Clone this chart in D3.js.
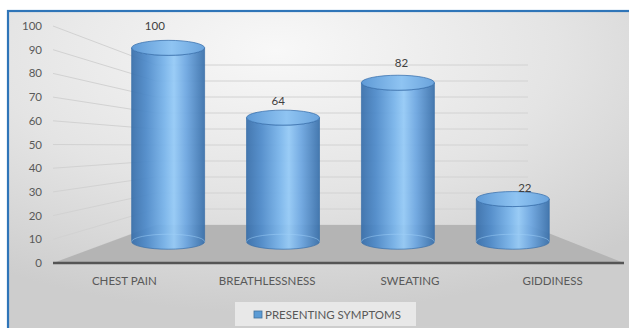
<!DOCTYPE html>
<html>
<head>
<meta charset="utf-8">
<script src="https://cdn.jsdelivr.net/npm/d3@7"></script>
<style>
  html, body { margin: 0; padding: 0; background: #ffffff; }
  svg { display: block; }
  text { font-family: Lato, "Open Sans", sans-serif; }
</style>
</head>
<body>
<svg id="chart" width="629" height="328"></svg>
<script>
// Presenting symptoms (counts)
const categories = ["CHEST PAIN", "BREATHLESSNESS", "SWEATING", "GIDDINESS"];
const values = [100, 64, 82, 22];
const tickValues = [0, 10, 20, 30, 40, 50, 60, 70, 80, 90, 100];
const seriesName = "PRESENTING SYMPTOMS";

const W = 629, H = 328;
const FS = 11.5;
const svg = d3.select("#chart");
const defs = svg.append("defs");

// Chart background: soft radial grey
const bgGrad = defs.append("radialGradient").attr("id", "bgGrad")
  .attr("cx", "42%").attr("cy", "12%").attr("r", "80%");
bgGrad.append("stop").attr("offset", "0%").attr("stop-color", "#f8f8f8");
bgGrad.append("stop").attr("offset", "55%").attr("stop-color", "#e4e4e4");
bgGrad.append("stop").attr("offset", "100%").attr("stop-color", "#cdcdcd");

// Cylinder body shading (left to right)
const bodyGrad = defs.append("linearGradient").attr("id", "bodyGrad")
  .attr("x1", "0%").attr("x2", "100%").attr("y1", "0%").attr("y2", "0%");
[["0%", "#386fab"], ["20%", "#4d8aca"], ["45%", "#78b4eb"], ["58%", "#94caf7"],
 ["75%", "#6ca6e1"], ["100%", "#3970ab"]].forEach(([o, c]) =>
  bodyGrad.append("stop").attr("offset", o).attr("stop-color", c));

const capGrad = defs.append("linearGradient").attr("id", "capGrad")
  .attr("x1", "0%").attr("x2", "100%").attr("y1", "0%").attr("y2", "0%");
[["0%", "#5f9ad6"], ["55%", "#8fc4f2"], ["100%", "#6aa3dc"]].forEach(([o, c]) =>
  capGrad.append("stop").attr("offset", o).attr("stop-color", c));

// Frame
svg.append("rect").attr("x", 8).attr("y", 11).attr("width", W + 10).attr("height", H)
  .attr("fill", "url(#bgGrad)").attr("stroke", "#2f75b8").attr("stroke-width", 2.2);

// Front plane and back plane of the 3D box
const xFront = d3.scaleBand().domain(categories).range([53, 624]);
const xBack = d3.scaleBand().domain(categories).range([156, 528]);
const yFront = d3.scaleLinear().domain([0, 100]).range([263, 26]);
const yBack = d3.scaleLinear().domain([0, 100]).range([225, 65]);

// Position at a depth t (0 = front edge, 1 = back wall)
const lerp = (a, b, t) => a + (b - a) * t;
const xCenterAt = (c, t) => lerp(xFront(c) + xFront.bandwidth() / 2, xBack(c) + xBack.bandwidth() / 2, t);
const stepAt = t => lerp(xFront.step(), xBack.step(), t);
const yAt = (v, t) => lerp(yFront(v), yBack(v), t);

const xLeftFront = xFront.range()[0], xLeftBack = xBack.range()[0];
const xRightFront = xFront.range()[1], xRightBack = xBack.range()[1];

// Gridlines on the side wall and back wall
const grid = svg.append("g").attr("stroke", "#d2d2d2").attr("stroke-width", 1).attr("fill", "none");
tickValues.forEach(v => {
  grid.append("line")
    .attr("x1", xLeftFront).attr("y1", yFront(v))
    .attr("x2", xLeftBack).attr("y2", yBack(v));
  grid.append("line")
    .attr("x1", xLeftBack).attr("y1", yBack(v))
    .attr("x2", xRightBack).attr("y2", yBack(v));
});

// Floor
svg.append("path")
  .attr("d", `M${xLeftFront},${yFront(0)} L${xLeftBack},${yBack(0)} L${xRightBack},${yBack(0)} L${xRightFront},${yFront(0)} Z`)
  .attr("fill", "#b4b4b4");

// Category axis line
svg.append("line")
  .attr("x1", xLeftFront).attr("x2", xRightFront)
  .attr("y1", yFront(0)).attr("y2", yFront(0))
  .attr("stroke", "#555555").attr("stroke-width", 2.4);

// Value axis labels
svg.append("g").selectAll("text").data(tickValues).join("text")
  .attr("x", 42).attr("y", d => yFront(d)).attr("dy", "0.35em")
  .attr("text-anchor", "end").attr("font-size", FS).attr("fill", "#595959")
  .text(d => d);

// Category labels
svg.append("g").selectAll("text").data(categories).join("text")
  .attr("x", d => xFront(d) + xFront.bandwidth() / 2).attr("y", 285)
  .attr("text-anchor", "middle").attr("font-size", FS).attr("fill", "#595959")
  .text(d => d);

// Cylinders
const tCyl = 0.56, barFrac = 0.635, ry = 7.5;
const bars = svg.append("g").selectAll("g").data(categories.map((c, i) => ({ c, v: values[i] }))).join("g");

bars.each(function (d) {
  const g = d3.select(this);
  const cx = xCenterAt(d.c, tCyl);
  const rx = stepAt(tCyl) * barFrac / 2;
  const yb = yAt(0, tCyl), yt = yAt(d.v, tCyl);

  g.append("path")
    .attr("d", `M${cx - rx},${yt} L${cx - rx},${yb} A${rx},${ry} 0 0 0 ${cx + rx},${yb} L${cx + rx},${yt} A${rx},${ry} 0 0 1 ${cx - rx},${yt} Z`)
    .attr("fill", "url(#bodyGrad)").attr("fill-opacity", 0.93)
    .attr("stroke", "#3a6fa8").attr("stroke-width", 0.7);

  // back rim of the base, seen through the body
  g.append("path")
    .attr("d", `M${cx - rx},${yb} A${rx},${ry} 0 0 1 ${cx + rx},${yb}`)
    .attr("fill", "none").attr("stroke", "#9fd0f8").attr("stroke-opacity", 0.55).attr("stroke-width", 0.9);

  g.append("ellipse")
    .attr("cx", cx).attr("cy", yt).attr("rx", rx).attr("ry", ry)
    .attr("fill", "url(#capGrad)").attr("stroke", "#3c74b0").attr("stroke-width", 0.8);
});

// Data labels
const tLabel = 0.39;
svg.append("g").selectAll("text").data(categories.map((c, i) => ({ c, v: values[i] }))).join("text")
  .attr("x", d => xCenterAt(d.c, tLabel)).attr("y", d => yAt(d.v, tLabel) - 11)
  .attr("text-anchor", "middle").attr("font-size", FS).attr("fill", "#404040")
  .text(d => d.v);

// Legend
const legend = svg.append("g");
legend.append("rect").attr("x", 235).attr("y", 302).attr("width", 181).attr("height", 24)
  .attr("fill", "#e8e8e8");
legend.append("rect").attr("x", 254).attr("y", 311).attr("width", 8).attr("height", 7)
  .attr("fill", "#5b9bd5").attr("stroke", "#41719c").attr("stroke-width", 0.8);
legend.append("text").attr("x", 265).attr("y", 318.5)
  .attr("font-size", FS).attr("fill", "#595959").text(seriesName);
</script>
</body>
</html>
